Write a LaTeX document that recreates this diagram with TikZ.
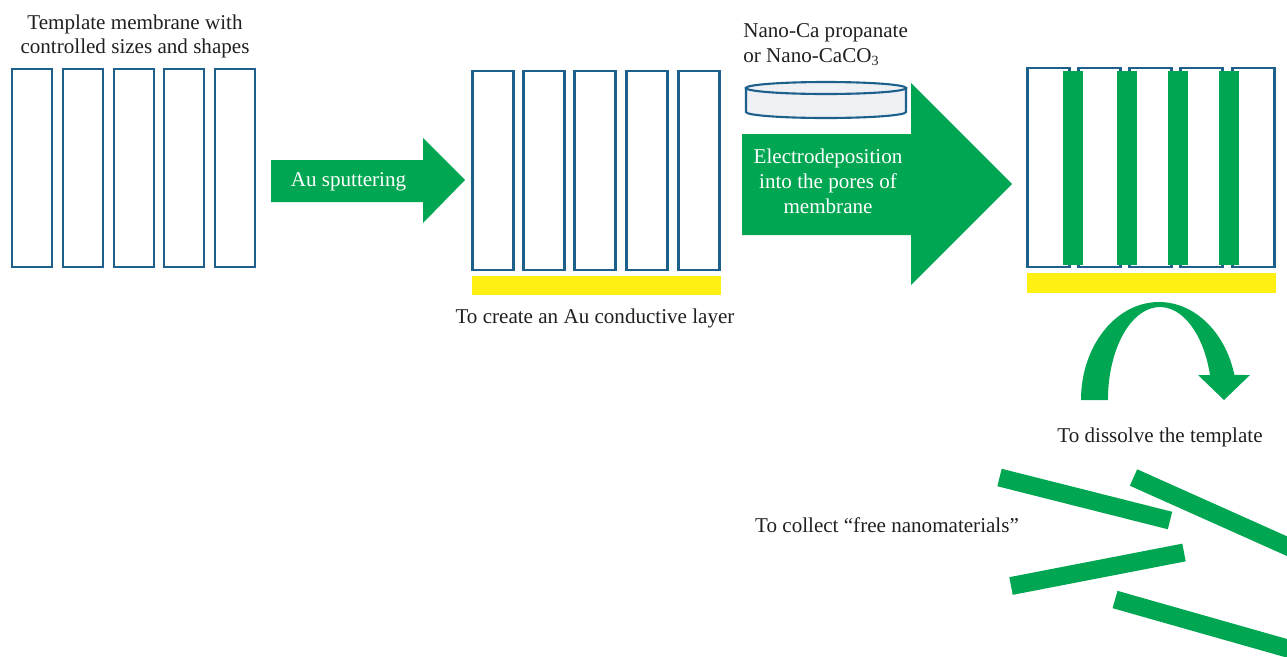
\documentclass[tikz,border=0pt]{standalone}
\usepackage{fontspec}
\setmainfont{Liberation Serif}
\definecolor{poreblue}{RGB}{29,96,140}
\definecolor{procgreen}{RGB}{0,166,81}
\definecolor{auyellow}{RGB}{255,240,20}
\definecolor{inkgray}{RGB}{35,31,32}
\definecolor{diskfill}{RGB}{239,240,243}
\tikzset{
  pore/.style={draw=poreblue, line width=1.7pt, fill=white},
  wire/.style={fill=procgreen},
  loose/.style={draw=procgreen, line width=0.36cm},
  goldlayer/.style={fill=auyellow},
  caption/.style={text=inkgray, font=\fontsize{12}{14}\selectfont, align=center, inner sep=0pt, anchor=base},
  arrowtext/.style={text=white, font=\fontsize{12}{14}\selectfont, align=center, inner sep=0pt, anchor=base},
  flow/.style={fill=procgreen}
}
\begin{document}
\begin{tikzpicture}[x=0.02cm, y=-0.02cm]
\useasboundingbox (0,0) rectangle (1287,656);
\clip (0,0) rectangle (1287,656);

% ---- bare template membrane (multi-line nodes sit on their last baseline)
\node[caption, font=\fontsize{12}{13.4}\selectfont] (t1) at (135,53.5) {Template membrane with\\controlled sizes and shapes};
\foreach \x in {12,63,114,164,215}
  \draw[pore] (\x,69) rectangle ++(40,198);

% ---- sputtering arrow
\fill[flow] (271,160) -- (423,160) -- (423,138) -- (465,180) -- (423,223) -- (423,202) -- (271,202) -- cycle;
\node[arrowtext] (sputter) at (348.5,186.5) {Au sputtering};

% ---- membrane with gold back layer
\foreach \x in {472,523,574,626,678}
  \draw[pore] (\x,71) rectangle ++(41,199);
\fill[goldlayer] (472,276) rectangle (721,295);
\node[caption] (au) at (595,323) {To create an Au conductive layer};

% ---- electrolyte source disk
\node[caption, align=left, anchor=base west] (source) at (743,62)
  {Nano-Ca propanate\\or Nano-CaCO\textsubscript{3}};
\filldraw[fill=diskfill, draw=poreblue, line width=1.2pt]
  (746,88) -- (746,112) arc[start angle=180, end angle=360, x radius=1.6cm, y radius=0.12cm]
  -- (906,88) -- cycle;
\filldraw[fill=diskfill, draw=poreblue, line width=1.2pt] (826,88) ellipse [x radius=1.6cm, y radius=0.12cm];

% ---- electrodeposition arrow
\fill[flow] (742,134) -- (911,134) -- (911,83) -- (1012,184) -- (911,285) -- (911,235) -- (742,235) -- cycle;
\node[arrowtext] (electro) at (828,213) {Electrodeposition\\into the pores of\\membrane};

% ---- filled membrane
\foreach \x in {1027,1078,1129,1180,1232}
  \draw[pore] (\x,68) rectangle ++(42,199);
\foreach \x in {1063,1117,1168,1219}
  \fill[wire] (\x,71) rectangle ++(20,194);
\fill[goldlayer] (1027,273) rectangle (1276,293);

% ---- curved arrow: dissolve the template
\fill[flow] (1081,400)
  arc[start angle=180, end angle=14.8, x radius=1.56cm, y radius=1.96cm]
  -- (1250,375) -- (1224,400) -- (1198,375) -- (1210,375)
  arc[start angle=15.6, end angle=180, x radius=1.04cm, y radius=1.86cm]
  -- cycle;
\node[caption] (dissolve) at (1160,442) {To dissolve the template};

% ---- freed nanowires
\node[caption] (collect) at (887,532) {To collect “free nanomaterials”};
\draw[loose] (999.5,477.5) -- (1170,520.5);
\draw[loose] (1133.5,477.5) -- (1300,552);
\draw[loose] (1011,586) -- (1184,552.5);
\draw[loose] (1115,599.5) -- (1300,652);
\end{tikzpicture}
\end{document}
